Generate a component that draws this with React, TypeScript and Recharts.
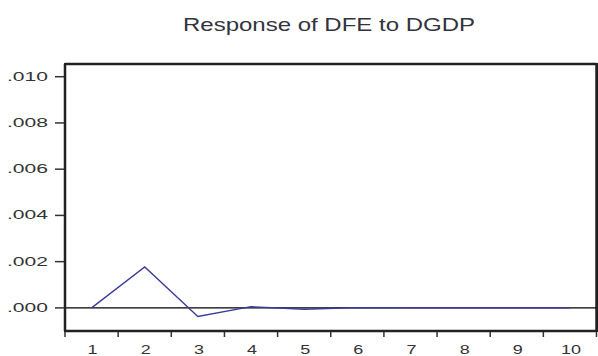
import React from 'react';
import { LineChart, Line, XAxis, YAxis, ReferenceLine } from 'recharts';

// impulse response, periods 1..10
const periods = [1, 2, 3, 4, 5, 6, 7, 8, 9, 10];
const response = [0, 0.00177, -0.00037, 0.00005, -0.00006, 0.00001, 0, 0, 0, 0];
const yTicks = [0, 0.002, 0.004, 0.006, 0.008, 0.01];
const yDomain = [-0.001, 0.01055];
const title = 'Response of DFE to DGDP';

const data = periods.map((p, i) => ({ period: p, value: response[i] }));
const xDomain = [periods[0] - 0.5, periods[periods.length - 1] + 0.5];
// tick marks sit between periods, labels on the periods
const xTicks = [xDomain[0], ...periods.flatMap((p) => [p, p + 0.5])];

const FONT = '"Liberation Sans", Arial, sans-serif';
const INK = '#333333';
const FRAME = '#222222';

const fmt = (v: number) => v.toFixed(3).replace(/^0/, '');

const XTick = (props: any) => {
  const { x, y, payload } = props;
  const v = payload.value;
  if (Number.isInteger(v)) {
    return (
      <text x={x + 1} y={y + 23} textAnchor="middle" fontFamily={FONT} fontSize={12} fill={INK}
        textLength={String(v).length * 10} lengthAdjust="spacingAndGlyphs">
        {v}
      </text>
    );
  }
  return <line x1={x} x2={x} y1={y} y2={y + 6} stroke={INK} strokeWidth={1.5} />;
};

const YTick = (props: any) => {
  const { x, y, payload } = props;
  return (
    <g>
      <line x1={x - 10} x2={x} y1={y} y2={y} stroke={INK} strokeWidth={1.5} />
      <text x={x - 17} y={y + 4} textAnchor="end" fontFamily={FONT} fontSize={12} fill={INK}
        textLength={41} lengthAdjust="spacingAndGlyphs">
        {fmt(payload.value)}
      </text>
    </g>
  );
};

const App: React.FC = () => {
  return (
    <div style={{ position: 'absolute', left: 0, top: 0, width: 598, height: 356, background: '#fff' }}>
      <svg width={598} height={50} style={{ position: 'absolute', left: 0, top: 0 }}>
        <text x={183} y={31} fontFamily={FONT} fontSize={18.5} fill="#333340"
          textLength={292} lengthAdjust="spacingAndGlyphs">
          {title}
        </text>
      </svg>
      <div style={{ position: 'absolute', left: 0, top: 0 }}>
        {/* axis height/width already reserve the bottom and left space */}
        <LineChart width={598} height={356} data={data} margin={{ top: 64, right: 1.5, bottom: 0, left: 0 }}>
          <XAxis dataKey="period" type="number" domain={xDomain} ticks={xTicks} interval={0}
            stroke={FRAME} strokeWidth={2.5} axisLine tickLine={false} tickSize={0} tickMargin={0}
            height={25} tick={<XTick />} />
          <YAxis type="number" domain={yDomain} ticks={yTicks} interval={0} allowDataOverflow
            stroke={FRAME} strokeWidth={2.5} axisLine tickLine={false} tickSize={0} tickMargin={0}
            width={65} tick={<YTick />} />
          {/* rest of the plot frame */}
          <ReferenceLine x={xDomain[1]} stroke={FRAME} strokeWidth={2.5} ifOverflow="visible" />
          <ReferenceLine y={yDomain[1]} stroke={FRAME} strokeWidth={2.5} ifOverflow="visible" />
          <ReferenceLine y={0} stroke="#000" strokeWidth={1.3} />
          <Line type="linear" dataKey="value" stroke="#3a3a9c" strokeWidth={1.3} dot={false} isAnimationActive={false} />
        </LineChart>
      </div>
      {/* box drawn again in html, same spot as the plot area */}
      <div style={{ position: 'absolute', left: 64, top: 63, width: 530, height: 265, border: `2px solid ${FRAME}`, pointerEvents: 'none' }} />
    </div>
  );
};

export default App;
